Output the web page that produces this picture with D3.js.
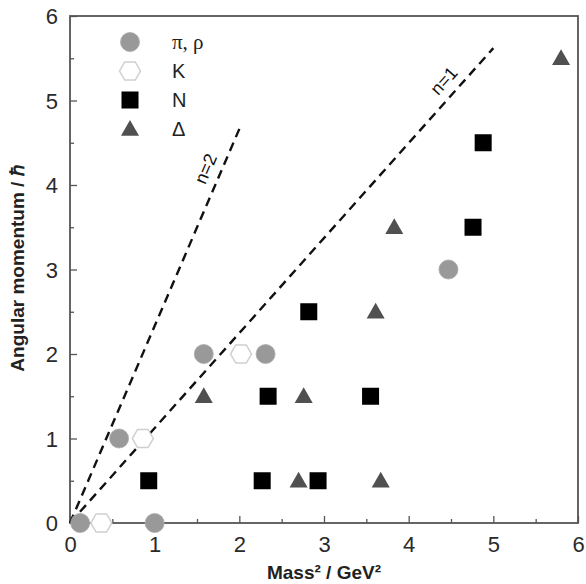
<!DOCTYPE html>
<html><head><meta charset="utf-8">
<script src="https://cdn.jsdelivr.net/npm/d3@7/dist/d3.min.js"></script>
<style>body{margin:0;background:#fff}svg{display:block}</style>
</head><body>
<svg id="c" width="586" height="584"></svg>
<script>
const xTicks = [0,1,2,3,4,5,6];
const yTicks = [0,1,2,3,4,5,6];
const minorTicks = [0.5,1.5,2.5,3.5,4.5,5.5];
const piRho = [[0.12,0],[1.0,0],[0.58,1],[1.58,2],[2.31,2],[4.47,3]];
const kaon = [[0.37,0],[0.86,1],[2.02,2]];
const nucleon = [[0.93,0.5],[2.27,0.5],[2.93,0.5],[2.34,1.5],[3.55,1.5],[2.82,2.5],[4.76,3.5],[4.88,4.5]];
const delta = [[1.58,1.5],[2.76,1.5],[2.70,0.5],[3.67,0.5],[3.61,2.5],[3.83,3.5],[5.80,5.5]];
const lineN1 = [[0,0],[5.0,5.62]];
const lineN2 = [[0,0],[2.02,4.71]];
const legendLabels = ["π, ρ","K","N","Δ"];

const svg = d3.select("#c");
const x = d3.scaleLinear().domain([0,6]).range([70,578]);
const y = d3.scaleLinear().domain([0,6]).range([523,16]);
const axisCol = "#555";

const gx = svg.append("g").attr("transform","translate(0,523)")
  .call(d3.axisBottom(x).tickValues(xTicks).tickSizeInner(-7).tickSizeOuter(0).tickPadding(13).tickFormat(d3.format("d")));
const gxm = svg.append("g").attr("transform","translate(0,523)")
  .call(d3.axisBottom(x).tickValues(minorTicks).tickSizeInner(-4).tickSizeOuter(0).tickFormat(""));
const gy = svg.append("g").attr("transform","translate(70,0)")
  .call(d3.axisLeft(y).tickValues(yTicks).tickSizeInner(-7).tickSizeOuter(0).tickPadding(12).tickFormat(d3.format("d")));
const gym = svg.append("g").attr("transform","translate(70,0)")
  .call(d3.axisLeft(y).tickValues(minorTicks).tickSizeInner(-4).tickSizeOuter(0).tickFormat(""));
[gx,gxm,gy,gym].forEach(g=>{
  g.select(".domain").remove();
  g.selectAll("line").attr("stroke",axisCol).attr("stroke-width",1.3);
  g.selectAll("text").attr("font-family","Liberation Sans, Arial, sans-serif").attr("font-size",22).attr("fill","#2a2a2a");
});
gx.selectAll("text").attr("dy","0.71em");
gy.selectAll("text").attr("dy","0.35em");

svg.append("rect").attr("x",70).attr("y",16).attr("width",508).attr("height",507)
  .attr("fill","none").attr("stroke",axisCol).attr("stroke-width",1.8);

const line = d3.line().x(d=>x(d[0])).y(d=>y(d[1]));
[lineN1,lineN2].forEach(l=>{
  svg.append("path").attr("d",line(l)).attr("fill","none").attr("stroke","#111")
    .attr("stroke-width",2.4).attr("stroke-dasharray","9,6");
});
function lineLabel(l, t, frac, off){
  const x0=x(l[0][0]), y0=y(l[0][1]), x1=x(l[1][0]), y1=y(l[1][1]);
  const ang = Math.atan2(y1-y0,x1-x0)*180/Math.PI;
  const px = x0+(x1-x0)*frac, py = y0+(y1-y0)*frac;
  svg.append("text").attr("transform",`translate(${px},${py}) rotate(${ang}) translate(0,${-off})`)
    .attr("text-anchor","middle").attr("font-family","Liberation Sans, Arial, sans-serif")
    .attr("font-size",18).attr("fill","#111").text(t);
}
lineLabel(lineN1,"n=1",0.91,9);
lineLabel(lineN2,"n=2",0.875,9);

const hex = r => d3.range(6).map(i=>[r*Math.cos(i*Math.PI/3), r*Math.sin(i*Math.PI/3)].join(",")).join(" ");
function drawCircle(g,cx,cy){ g.append("circle").attr("cx",cx).attr("cy",cy).attr("r",9.5).attr("fill","#999").attr("stroke","#aaa").attr("stroke-width",0.8); }
function drawHex(g,cx,cy){ g.append("polygon").attr("points",hex(10.5)).attr("transform",`translate(${cx},${cy})`).attr("fill","#fff").attr("stroke","#d0d0d0").attr("stroke-width",1.5); }
function drawSq(g,cx,cy){ g.append("rect").attr("x",cx-8.5).attr("y",cy-8.5).attr("width",17).attr("height",17).attr("fill","#000"); }
function drawTri(g,cx,cy){ const s=9; g.append("polygon").attr("points",`${cx},${cy-s} ${cx+s},${cy+s*0.75} ${cx-s},${cy+s*0.75}`).attr("fill","#505050"); }

const g = svg.append("g");
piRho.forEach(d=>drawCircle(g,x(d[0]),y(d[1])));
kaon.forEach(d=>drawHex(g,x(d[0]),y(d[1])));
nucleon.forEach(d=>drawSq(g,x(d[0]),y(d[1])));
delta.forEach(d=>drawTri(g,x(d[0]),y(d[1])));

const lg = svg.append("g");
const drawers=[drawCircle,drawHex,drawSq,drawTri];
const rowsY=[42,71,100,129];
legendLabels.forEach((t,i)=>{
  drawers[i](lg,130,rowsY[i]);
  lg.append("text").attr("x",172).attr("y",rowsY[i]).attr("dy","0.35em")
    .attr("font-family", i===0 ? "Liberation Serif, Times New Roman, serif" : "Liberation Sans, Arial, sans-serif")
    .attr("font-size", i===0?21:20).attr("fill","#222").text(t);
});

svg.append("text").attr("x",324).attr("y",579).attr("text-anchor","middle")
  .attr("font-family","Liberation Sans, Arial, sans-serif").attr("font-weight","bold").attr("font-size",19).attr("fill","#222")
  .text("Mass² / GeV²");
svg.append("text").attr("transform","translate(24,268) rotate(-90)").attr("text-anchor","middle")
  .attr("font-family","Liberation Sans, Arial, sans-serif").attr("font-weight","bold").attr("font-size",19).attr("fill","#222")
  .text("Angular momentum / ℏ");
</script>
</body></html>
